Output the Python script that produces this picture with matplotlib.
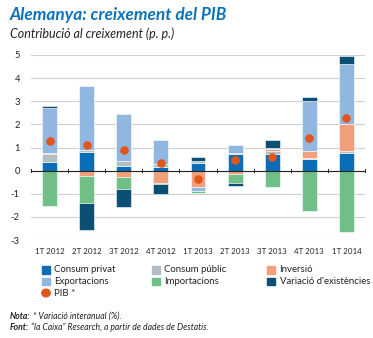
import numpy as np
import matplotlib.pyplot as plt
from matplotlib.patches import Rectangle, Circle

plt.rcParams['font.family'] = ['Lato', 'DejaVu Sans']

quarters = ["1T 2012", "2T 2012", "3T 2012", "4T 2012", "1T 2013",
            "2T 2013", "3T 2013", "4T 2013", "1T 2014"]

# contributions to growth (p. p.)
consum_privat = [0.37, 0.81, 0.20, 0.17, 0.33, 0.71, 0.74, 0.52, 0.78]
consum_public = [0.33, 0.09, 0.20, 0.12, 0.07, 0.04, 0.09, 0.03, 0.09]
inversio = [0.07, -0.22, -0.29, -0.52, -0.69, -0.16, 0.10, 0.30, 1.14]
exportacions = [1.95, 2.77, 2.05, 1.04, -0.20, 0.36, 0.03, 2.18, 2.61]
importacions = [-1.53, -1.17, -0.52, -0.04, -0.09, -0.39, -0.72, -1.73, -2.67]
existencies = [0.08, -1.18, -0.76, -0.43, 0.20, -0.11, 0.37, 0.14, 0.32]
pib = [1.28, 1.10, 0.88, 0.32, -0.38, 0.46, 0.58, 1.43, 2.27]

series = [
    ("Consum privat", consum_privat, "#0b6db5"),
    ("Consum públic", consum_public, "#b3bec4"),
    ("Inversió", inversio, "#f3a07a"),
    ("Exportacions", exportacions, "#91b6e0"),
    ("Importacions", importacions, "#6fbf87"),
    ("Variació d'existències", existencies, "#0b4f72"),
]
pib_color = "#e2561c"
W, H = 373, 338

fig = plt.figure(figsize=(W / 100, H / 100), dpi=100)
ax = fig.add_axes([31 / W, 98 / H, 334 / W, 185 / H])

x = np.arange(len(quarters))
pos_base = np.zeros(len(quarters))
neg_base = np.zeros(len(quarters))
for name, vals, col in series:
    v = np.array(vals)
    base = np.where(v >= 0, pos_base, neg_base)
    ax.bar(x, v, 0.4, bottom=base, color=col, edgecolor="white",
           linewidth=0.4, zorder=2)
    pos_base += np.where(v >= 0, v, 0)
    neg_base += np.where(v < 0, v, 0)

ax.scatter(x, pib, s=38, color=pib_color, zorder=4, linewidths=0)

ax.set_xlim(-0.5, len(quarters) - 0.5)
ax.set_ylim(-3, 5)
ax.set_yticks(range(-3, 6))
ax.set_yticklabels([str(t) for t in range(-3, 6)], fontsize=6.8, color="#222222")
ax.grid(axis="y", color="#d0d0d0", linewidth=0.8, zorder=0)
ax.axhline(0, color="#222222", linewidth=0.8, zorder=3)

# small category separators on the zero line
for b in np.arange(-0.5, len(quarters) - 0.4, 1.0):
    ax.plot([b, b], [-0.05, 0.07], color="#222222", linewidth=0.7, zorder=3,
            clip_on=False)

ax.set_xticks(x)
ax.set_xticklabels(quarters, fontsize=5.7, color="#222222")
ax.tick_params(axis="both", length=0)
ax.tick_params(axis="x", pad=6)
ax.tick_params(axis="y", pad=8)
for s in ax.spines.values():
    s.set_visible(False)

fig.text(10 / W, 1 - 15 / H, "Alemanya: creixement del PIB", fontsize=12.4,
         fontweight="bold", fontstyle="italic", color="#0b72bb", va="center")
fig.text(10 / W, 1 - 34 / H, "Contribució al creixement (p. p.)",
         fontsize=9, fontstyle="italic", color="#222222", va="center")

# legend, laid out in three columns
legend_items = [
    (series[0], 42, 270), (series[3], 42, 281.5),
    (series[1], 152, 270), (series[4], 152, 281.5),
    (series[2], 267, 270), (series[5], 267, 281.5),
]
for (name, _, col), lx, ly in legend_items:
    fig.add_artist(Rectangle(((lx) / W, 1 - (ly + 3.6) / H), 7.5 / W, 7.5 / H,
                             transform=fig.transFigure, color=col))
    fig.text((lx + 12.5) / W, 1 - ly / H, name, fontsize=6.9,
             color="#222222", va="center")
fig.add_artist(Circle((46 / W, 1 - 293 / H), 4.2 / W,
                      transform=fig.transFigure, color=pib_color))
fig.text(54.5 / W, 1 - 293 / H, "PIB *", fontsize=6.9, color="#222222",
         va="center")

# notes
nota = fig.text(10 / W, 1 - 321 / H, "Nota:", fontsize=6.2, fontweight="bold",
                fontstyle="italic", color="#222222", va="bottom")
ax.annotate(" * Variació interanual (%).", xy=(1, 0), xycoords=nota,
            fontsize=6.2, fontstyle="italic", color="#222222", va="bottom",
            annotation_clip=False)
font = fig.text(10 / W, 1 - 332 / H, "Font:", fontsize=6.2, fontweight="bold",
                fontstyle="italic", color="#222222", va="bottom")
ax.annotate(" \u201cla Caixa\u201d Research, a partir de dades de Destatis.",
            xy=(1, 0), xycoords=font, fontsize=6.2, fontstyle="italic",
            color="#222222", va="bottom", annotation_clip=False)

fig.savefig("out.png", dpi=100)
